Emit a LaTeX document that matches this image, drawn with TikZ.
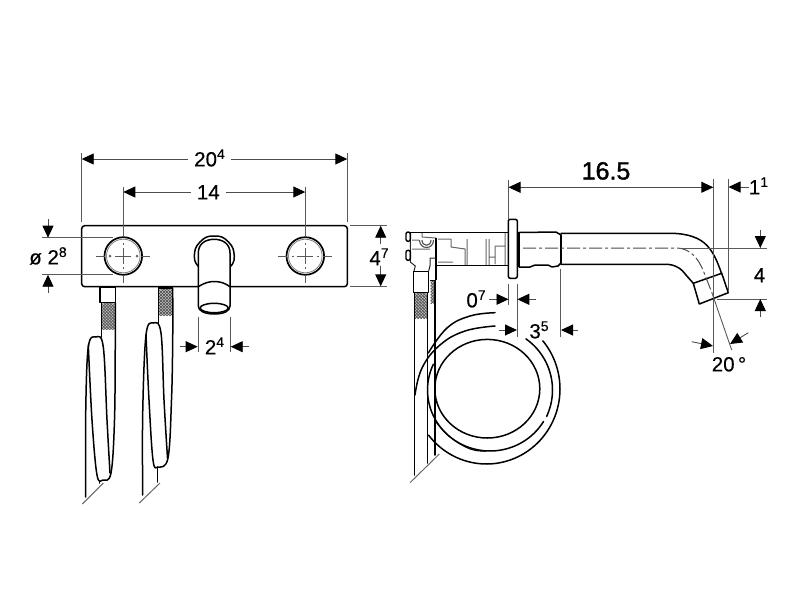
\documentclass[tikz,border=0pt]{standalone}
\usepackage{fontspec}
\setmainfont[FakeBold=0.3]{Liberation Sans}
\newfontfamily\bigfont[FakeBold=1.3]{Liberation Sans}
\usetikzlibrary{arrows.meta}
\newcommand\sx[1]{\raisebox{0.36em}{\fontsize{14}{14}\selectfont #1}}
\newcommand\hatchbox[4]{%
  \begin{scope}
    \clip (#1,#2) rectangle (#3,#4);
    \fill[black!25] (#1,#2) rectangle (#3,#4);
    \foreach \i in {-40,-37,...,10} {
      \draw[black!70,line width=.55pt] (#1+\i,#2) -- ++(40,40);
      \draw[black!70,line width=.55pt] (#3-\i,#2) -- ++(-40,40);
    }
  \end{scope}}
\tikzset{
  main/.style={line width=1.5pt,black,line join=round,line cap=round},
  fine/.style={line width=1pt,black!60},
  ext/.style={line width=.9pt,black!65},
  dimline/.style={line width=.9pt,black!70,-{Triangle[length=12pt,width=11pt,black]}},
  dimtxt/.style={font=\fontsize{20.5}{20.5}\selectfont,text height=14.7pt,text depth=0pt,inner xsep=6pt,inner ysep=1pt,text=black},
  centre/.style={line width=1pt,black!70,dash pattern=on 13pt off 3pt on 3pt off 3pt},
}
\begin{document}
\begin{tikzpicture}[x=1pt,y=-1pt]
\useasboundingbox (0,0) rectangle (800,600);
\fill[white] (0,0) rectangle (800,600);

% ---------- front view
\draw[main,rounded corners=3pt] (81.7,225.7) rectangle (347.3,286.7);
\foreach \cx in {123.3,305.3} {
  \draw[line width=1.7pt,fill=white] (\cx,256) circle[radius=18.8];
  \draw[line width=.8pt,black!50] (\cx,256) circle[radius=16.8];
  \draw[ext] (\cx-27,256) -- (\cx-18,256) (\cx+18,256) -- (\cx+27,256);
  \draw[ext] (\cx-8,256) -- (\cx+8,256) (\cx,248) -- (\cx,264);
  \draw[ext] (\cx,225) -- (\cx,237) (\cx,275) -- (\cx,283);
  \draw[ext] (\cx,243) -- (\cx,245) (\cx,267) -- (\cx,269);
}
\fill[black!60] (110,256) circle[radius=1.5] (137,256) circle[radius=1.5];
\draw[fine] (291.5,256) -- (294,256) (316.5,256) -- (319,256);

% spout
\draw[main,fill=white] plot[smooth,tension=.9] coordinates {(198,266) (194.3,256) (200,242) (214.3,236) (228.5,242) (234.3,256) (231,266)};
\draw[line width=1.5pt,fill=white] (198.3,253) .. controls (198.3,244) and (205,239.3) .. (214.2,239.3) .. controls (223,239.3) and (230,244) .. (230,253) -- (230,306) .. controls (230,311) and (224,314) .. (214.2,314) .. controls (205,314) and (198.3,311) .. (198.3,306) -- cycle;
\draw[main] (198.3,286.7) .. controls (204,283) and (209,281.5) .. (214.2,281.5) .. controls (220,281.5) and (225,283) .. (230,286.7);
\draw[main] (214.2,308) ellipse[x radius=14,y radius=4.7];

% hoses left
\draw[main,fill=white] (100,287) rectangle (115.3,302.7);
\hatchbox{101.8}{303}{114.5}{329}
\draw[main] (101.3,303) -- (101.3,337);
\draw[main] plot[smooth,tension=.6] coordinates {(85.7,497) (85.7,413) (88.3,347) (96,337) (103.3,347) (107,420) (110,473)};
\draw[main] plot[smooth,tension=.6] coordinates {(88.3,345) (92,420) (97,475) (103,480) (111,473) (114.5,420) (115.3,340) (115.3,303)};
\draw[main] (99.5,480.5) -- (99.5,483);
\draw[fine] (82.3,504) -- (103.3,483);

\draw[line width=2.4pt] (158.3,288) -- (172.7,288);
\hatchbox{159}{289}{172}{315}
\draw[main] (158.5,288) -- (158.5,323);
\draw[main] plot[smooth,tension=.6] coordinates {(142.7,495) (142.7,413) (146,335) (153.3,323) (161,333) (164,400) (167.5,458)};
\draw[main] plot[smooth,tension=.6] coordinates {(146,335) (149,400) (153,460) (158,467) (168,458) (171.5,400) (172.7,340) (172.7,288)};
\draw[main] (157.3,467) -- (157.3,482);
\draw[fine] (139.3,503) -- (160,483);

% front dimensions
\draw[ext] (81.7,153) -- (81.7,221.7) (347.3,153) -- (347.3,221.7);
\node[dimtxt] (d204) at (209.5,159) {20\sx{4}};
\coordinate (d204a) at (81.7,159); \coordinate (d204b) at (347.3,159);
\draw[dimline] (d204) -- (d204a);
\draw[dimline] (d204) -- (d204b);
\draw[ext] (123.3,186.7) -- (123.3,225) (305.3,186.7) -- (305.3,225);
\node[dimtxt] (d14) at (208.3,192) {14};
\coordinate (d14a) at (123.3,192); \coordinate (d14b) at (305.3,192);
\draw[dimline] (d14) -- (d14a);
\draw[dimline] (d14) -- (d14b);

\node[dimtxt] (d28) at (48,257) {ø 2\sx{8}};
\draw[ext] (41.7,237.7) -- (113.3,237.7) (41.7,274.7) -- (113.3,274.7);
\coordinate (d28at) at (48,219.3); \coordinate (d28a) at (48,237.7);
\coordinate (d28bt) at (48,292.7); \coordinate (d28b) at (48,274.7);
\draw[dimline] (d28at) -- (d28a);
\draw[dimline] (d28bt) -- (d28b);

\draw[ext] (350,225.5) -- (386.7,225.5) (350,286.5) -- (386.7,286.5);
\node[dimtxt,inner xsep=0pt,inner ysep=0pt] (d47) at (379,258) {4\sx{7}};
\coordinate (d47at) at (380.7,244.3); \coordinate (d47a) at (380.7,225.7);
\coordinate (d47bt) at (380.7,265.7); \coordinate (d47b) at (380.7,286.3);
\draw[dimline] (d47at) -- (d47a);
\draw[dimline] (d47bt) -- (d47b);

\draw[ext] (198.3,316.7) -- (198.3,351.7) (230,316.7) -- (230,351.7);
\node[dimtxt,inner xsep=0pt] (d24) at (214.5,347) {2\sx{4}};
\coordinate (d24at) at (180,346.7); \coordinate (d24a) at (197.7,346.7);
\coordinate (d24bt) at (249,346.7); \coordinate (d24b) at (230.7,346.7);
\draw[dimline] (d24at) -- (d24a);
\draw[dimline] (d24bt) -- (d24b);

% ---------- side view
% interior
\draw[fine] (422,233) -- (422,237) (412,240) -- (419,240) (422,237) -- (436,238) (438,239) -- (451,239) (451,239) -- (451,247) -- (465,249) -- (465,265) (467,239) -- (467,265) (486,239) -- (486,265) (489,239) -- (489,265) (495,246) -- (505,246) (495,246) -- (495,264) (489,257) -- (495,257) (505,233) -- (505,265) (438,262) -- (453,262) (412,249) -- (430,249);
\draw[line width=1.1pt,black!70] (419.5,240) .. controls (419.5,250) and (433.5,250) .. (433.5,240);
\draw[line width=1.1pt,black!70] (422,240) .. controls (422,247) and (431,247) .. (431,240);
\draw[main] (410.3,232.5) -- (508,232.5);
\draw[main] (436,265.7) -- (508,265.7);
\draw[line width=1.9pt] (436.3,238) -- (436.3,280);
\draw[line width=1pt,black!85] (410.3,232.5) -- (410.3,262) -- (415.3,266) -- (414,271) (428.7,271) -- (430,265.7) -- (430,258) -- (436,258);
\draw[line width=1.4pt,rounded corners=2pt] (406,232) rectangle (410.3,241.3);
\draw[line width=1.4pt,rounded corners=2pt] (406,250.3) rectangle (410.3,260.3);
\draw[main,fill=white] (413.7,271.3) rectangle (428.7,292.7);
\draw[line width=1pt] (429.7,280) -- (435.5,280);

\hatchbox{415}{293}{427.5}{318}
\hatchbox{430.5}{281}{434.8}{303}

% flange and collar
\draw[main,fill=white,rounded corners=2pt] (508.3,219.3) rectangle (517.3,278.3);
\draw[main] (519,232.5) -- (556,232) -- (561,235) (519,267) -- (530,267) -- (535,265) -- (548,265) -- (552,267) -- (558,266) -- (561,263);
\draw[line width=1.5pt] (519,232) -- (519,267);
\draw[main] (561,235) -- (561,263);
% pipe
\draw[main] (561,233.3) -- (670,233.3) .. controls (688,233.3) and (700,238) .. (707,245.5) .. controls (713,252) and (717,260) .. (721.7,274);
\draw[main] (561,264.3) -- (666,264.3) .. controls (675,264.3) and (682,269) .. (686,275) -- (693.3,283.3);
\draw[main] (693.3,283.3) -- (721.7,273.3) -- (728.3,292.7) -- (699.3,304) -- cycle;
% centre lines
\draw[centre] (523,248) -- (678,248) .. controls (690,249) and (698,258) .. (703,270) -- (712,293);
\draw[ext] (712,293) -- (731.7,350);
\draw[ext] (680,248) -- (766.7,248) (716.7,299) -- (766.7,299);

% coil
\draw[main] (414.3,293) -- (414.3,475) (427.7,293) -- (427.7,463) (435,281) -- (435,455);
\draw[fine] (410,482.7) -- (439.3,454);
\draw[main] plot[smooth,tension=.7] coordinates {(495,312.7) (470,316) (447,328) (428.3,353)};
\draw[main] plot[smooth,tension=.7] coordinates {(495,326) (465,331) (440,345) (422,368) (415,395)};
\draw[main] (487.3,388.7) ellipse[x radius=52.5,y radius=49.3];
\draw[main] plot[domain=-55:25,samples=30,smooth] ({490+62.5*cos(\x)},{390+62.5*sin(\x)});
\draw[main] plot[domain=31:205,samples=50,smooth] ({490+62.5*cos(\x)},{390+61*sin(\x)});
\draw[main] plot[domain=-40:142,samples=60,smooth] ({486.5+73.5*cos(\x)},{389+75*sin(\x)});
\draw[line width=1pt] plot[smooth,tension=.7] coordinates {(436,422) (450,437) (470,449) (486,451)};

% side dimensions
\draw[ext] (508.5,180) -- (508.5,219);
\draw[ext] (713.3,179) -- (713.3,352.7) (728.3,179) -- (728.3,292);
\node[font=\bigfont\fontsize{25}{25}\selectfont,text height=18pt,text depth=0pt,inner sep=0pt,text=black] (d165) at (606,170.5) {16.5};
\coordinate (d165a) at (508.5,187.3); \coordinate (d165b) at (713.3,187.3);
\draw[{Triangle[length=12pt,width=11pt,black]}-{Triangle[length=12pt,width=11pt,black]},line width=.9pt,black!70] (d165a) -- (d165b);

\node[dimtxt,inner xsep=0pt] (d11) at (758.5,187) {1\sx{1}};
\coordinate (d11a) at (728.5,187);
\draw[dimline] (d11.west) -- (d11a);

\node[dimtxt,inner xsep=0pt] (d4) at (759.5,275) {4};
\coordinate (d4at) at (760.3,230); \coordinate (d4a) at (760.3,248);
\coordinate (d4bt) at (760.3,317); \coordinate (d4b) at (760.3,299);
\draw[dimline] (d4at) -- (d4a);
\draw[dimline] (d4bt) -- (d4b);

\node[dimtxt,inner xsep=0pt] (d20) at (729,364) {20\,°};
\coordinate (d20at) at (691.7,341.7); \coordinate (d20a) at (713,346);
\coordinate (d20bt) at (748.3,332.7); \coordinate (d20b) at (730,344);
\draw[dimline] (d20at) -- (d20a);
\draw[dimline] (d20bt) -- (d20b);

\draw[ext] (508.5,284) -- (508.5,305) (517.3,284) -- (517.3,337) (560.7,269) -- (560.7,337);
\node[dimtxt,inner xsep=0pt] (d07) at (476,300) {0\sx{7}};
\coordinate (d07at) at (489.3,299.3); \coordinate (d07a) at (508.5,299.3);
\coordinate (d07bt) at (536,299.3); \coordinate (d07b) at (517.3,299.3);
\draw[dimline] (d07at) -- (d07a);
\draw[dimline] (d07bt) -- (d07b);
\node[dimtxt,inner xsep=0pt] (d35) at (539,331) {3\sx{5}};
\coordinate (d35at) at (499.3,330); \coordinate (d35a) at (517,330);
\coordinate (d35bt) at (578,330); \coordinate (d35b) at (561,330);
\draw[dimline] (d35at) -- (d35a);
\draw[dimline] (d35bt) -- (d35b);
\end{tikzpicture}
\end{document}
